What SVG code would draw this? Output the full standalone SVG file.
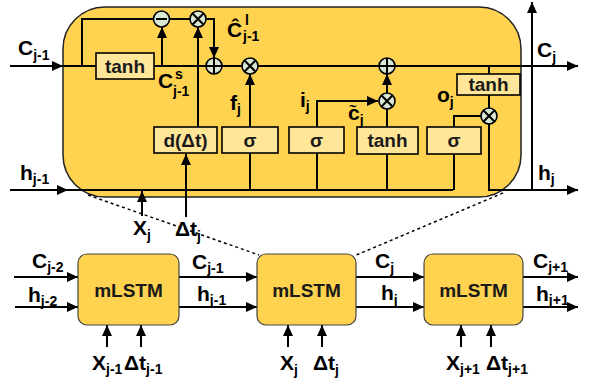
<svg xmlns="http://www.w3.org/2000/svg" width="590" height="386" viewBox="0 0 590 386">
<style>
.lbl{font-family:"Liberation Sans",Arial,sans-serif;font-weight:bold;font-size:21px;fill:#000}
.sub{font-size:14px}
.bt{font-family:"Liberation Sans",Arial,sans-serif;font-weight:bold;font-size:19px;fill:#1a1a1a;text-anchor:middle}
.gbox{fill:#FFE699;stroke:#000;stroke-width:1.6}
.op{fill:#D9E8D3;stroke:#000;stroke-width:1.6}
.ln{fill:none;stroke:#000;stroke-width:2}
.ar{fill:none;stroke:#000;stroke-width:2;marker-end:url(#ah)}
.dot{fill:none;stroke:#000;stroke-width:1.5;stroke-dasharray:3 3}
.cell{fill:#FFD24F;stroke:#444;stroke-width:1.2}
</style>
<defs>
<marker id="ah" markerUnits="userSpaceOnUse" markerWidth="12" markerHeight="10" refX="11" refY="5" orient="auto">
<path d="M0,0 L11,5 L0,10 Z" fill="#000"/>
</marker>
</defs>

<g id="cell-detail">
<rect x="63" y="7" width="458" height="190" rx="42" fill="#FFD24F" stroke="#222" stroke-width="1.5"/>
</g>

<g id="dotted-links">
<path class="dot" d="M88,195 L259,255"/>
<path class="dot" d="M503,193 L354,256"/>
</g>

<g id="connectors">
<path class="ar" d="M10,66 L63,66"/>
<path class="ln" d="M63,66 L96,66"/>
<path class="ln" d="M82,66 L82,19 L153.5,19"/>
<path class="ln" d="M154,66 L206,66"/>
<path class="ar" d="M162,66 L162,27"/>
<path class="ln" d="M169.5,19 L190,19"/>
<path class="ar" d="M206,19 L214,19 L214,58"/>
<path class="ln" d="M222,66 L242,66"/>
<path class="ln" d="M258,66 L379,66"/>
<path class="ar" d="M395,66 L578,66"/>
<path class="ln" d="M489,66 L489,74"/>
<path class="ln" d="M489,95 L489,108"/>
<path class="ar" d="M489,124 L489,190 L578,190"/>
<path class="ar" d="M532,190 L532,2"/>
<path class="ar" d="M10,190 L68,190"/>
<path class="ln" d="M68,190 L453,190"/>
<path class="ln" d="M250,153 L250,190"/>
<path class="ln" d="M317,153 L317,190"/>
<path class="ln" d="M387,154 L387,190"/>
<path class="ln" d="M454,154 L454,190"/>
<path class="ar" d="M186,217 L186,154"/>
<path class="ar" d="M142,216 L142,191"/>
<path class="ar" d="M250,127 L250,74"/>
<path class="ar" d="M198,127 L198,27"/>
<path class="ar" d="M317,127 L317,101 L378,101"/>
<path class="ln" d="M387,127 L387,109"/>
<path class="ar" d="M387,93 L387,74"/>
<path class="ln" d="M454,127 L454,116 L481,116"/>

<path class="ar" d="M14,277 L78,277"/>
<path class="ar" d="M15,307 L78,307"/>
<path class="ar" d="M179,277 L257,277"/>
<path class="ar" d="M179,307 L257,307"/>
<path class="ar" d="M356,277 L424,277"/>
<path class="ar" d="M356,307 L424,307"/>
<path class="ar" d="M523,277 L578,277"/>
<path class="ar" d="M523,307 L578,307"/>
<path class="ar" d="M107,347 L107,325"/>
<path class="ar" d="M141,347 L141,325"/>
<path class="ar" d="M288,347 L288,325"/>
<path class="ar" d="M322,347 L322,325"/>
<path class="ar" d="M461,347 L461,325"/>
<path class="ar" d="M491,347 L491,325"/>
</g>

<g id="tanh-c">
<rect class="gbox" x="96" y="53" width="58" height="26"/>
<text class="bt" x="125" y="73">tanh</text>
</g>
<g id="minus">
<circle class="op" cx="161.5" cy="19" r="8"/>
<path class="ln" d="M156,19 L167,19" stroke-width="1.6"/>
</g>
<g id="mul-decay">
<circle class="op" cx="198" cy="19" r="8"/>
<path class="ln" d="M192.3,13.3 L203.7,24.7 M203.7,13.3 L192.3,24.7" stroke-width="1.6"/>
</g>
<g id="add-adj">
<circle class="op" cx="214" cy="66" r="8"/>
<path class="ln" d="M206,66 L222,66 M214,58 L214,74" stroke-width="1.6"/>
</g>
<g id="mul-forget">
<circle class="op" cx="250" cy="66" r="8"/>
<path class="ln" d="M244.3,60.3 L255.7,71.7 M255.7,60.3 L244.3,71.7" stroke-width="1.6"/>
</g>
<g id="add-cell">
<circle class="op" cx="387" cy="66" r="8"/>
<path class="ln" d="M379,66 L395,66 M387,58 L387,74" stroke-width="1.6"/>
</g>
<g id="mul-input">
<circle class="op" cx="387" cy="101" r="8"/>
<path class="ln" d="M381.3,95.3 L392.7,106.7 M392.7,95.3 L381.3,106.7" stroke-width="1.6"/>
</g>
<g id="mul-output">
<circle class="op" cx="489" cy="116" r="8"/>
<path class="ln" d="M483.3,110.3 L494.7,121.7 M494.7,110.3 L483.3,121.7" stroke-width="1.6"/>
</g>
<g id="decay">
<rect class="gbox" x="154" y="127" width="63" height="26"/>
<text class="bt" x="185.5" y="147">d(Δt)</text>
</g>
<g id="sigma-f">
<rect class="gbox" x="222" y="127" width="56" height="26"/>
<text class="bt" x="250" y="147">σ</text>
</g>
<g id="sigma-i">
<rect class="gbox" x="289" y="127" width="55" height="26"/>
<text class="bt" x="316.5" y="147">σ</text>
</g>
<g id="tanh-cand">
<rect class="gbox" x="357" y="127" width="61" height="27"/>
<text class="bt" x="387.5" y="147">tanh</text>
</g>
<g id="sigma-o">
<rect class="gbox" x="427" y="127" width="54" height="27"/>
<text class="bt" x="454" y="147">σ</text>
</g>
<g id="tanh-out">
<rect class="gbox" x="457" y="74" width="63" height="21"/>
<text class="bt" x="488.5" y="91">tanh</text>
</g>

<g id="cell-labels">
<text class="lbl" x="18" y="55">C<tspan class="sub" dy="5">j-1</tspan></text>
<text class="lbl" x="20" y="180">h<tspan class="sub" dy="4">j-1</tspan></text>
<text class="lbl" x="227" y="37">Ĉ</text>
<text class="lbl sub" x="245" y="25">l</text>
<text class="lbl sub" x="243" y="41">j-1</text>
<text class="lbl" x="158" y="88">C</text>
<text class="lbl sub" x="175" y="79">s</text>
<text class="lbl sub" x="173" y="96">j-1</text>
<text class="lbl" x="230" y="110">f<tspan class="sub" dy="4">j</tspan></text>
<text class="lbl" x="300" y="107">i<tspan class="sub" dy="4">j</tspan></text>
<text class="lbl" x="348" y="120">c<tspan class="sub" dy="5">j</tspan></text>
<text class="lbl" x="349" y="111" style="font-size:13px">~</text>
<text class="lbl" x="437" y="102">o<tspan class="sub" dy="5">j</tspan></text>
<text class="lbl" x="537" y="57">C<tspan class="sub" dy="5">j</tspan></text>
<text class="lbl" x="538" y="180">h<tspan class="sub" dy="4">j</tspan></text>
<text class="lbl" x="133" y="235">X<tspan class="sub" dy="5">j</tspan></text>
<text class="lbl" x="175" y="236">Δt<tspan class="sub" dy="5">j</tspan></text>
</g>

<g id="mlstm-1">
<rect class="cell" x="78" y="254" width="101" height="71" rx="9"/>
<text class="bt" x="128.5" y="297">mLSTM</text>
</g>
<g id="mlstm-2">
<rect class="cell" x="257" y="254" width="99" height="71" rx="9"/>
<text class="bt" x="306.5" y="297">mLSTM</text>
</g>
<g id="mlstm-3">
<rect class="cell" x="424" y="254" width="99" height="71" rx="9"/>
<text class="bt" x="473.5" y="297">mLSTM</text>
</g>

<g id="chain-labels">
<text class="lbl" x="32" y="268">C<tspan class="sub" dy="4">j-2</tspan></text>
<text class="lbl" x="28" y="302">h<tspan class="sub" dy="4">j-2</tspan></text>
<text class="lbl" x="192" y="269">C<tspan class="sub" dy="4">j-1</tspan></text>
<text class="lbl" x="197" y="301">h<tspan class="sub" dy="4">j-1</tspan></text>
<text class="lbl" x="375" y="268">C<tspan class="sub" dy="5">j</tspan></text>
<text class="lbl" x="381" y="300">h<tspan class="sub" dy="5">j</tspan></text>
<text class="lbl" x="533" y="268">C<tspan class="sub" dy="4">j+1</tspan></text>
<text class="lbl" x="536" y="301">h<tspan class="sub" dy="4">j+1</tspan></text>
<text class="lbl" x="92" y="370">X<tspan class="sub" dy="4">j-1</tspan></text>
<text class="lbl" x="124" y="370">Δt<tspan class="sub" dy="4">j-1</tspan></text>
<text class="lbl" x="280" y="370">X<tspan class="sub" dy="5">j</tspan></text>
<text class="lbl" x="313" y="370">Δt<tspan class="sub" dy="5">j</tspan></text>
<text class="lbl" x="446" y="370">X<tspan class="sub" dy="4">j+1</tspan></text>
<text class="lbl" x="486" y="370">Δt<tspan class="sub" dy="4">j+1</tspan></text>
</g>
</svg>
